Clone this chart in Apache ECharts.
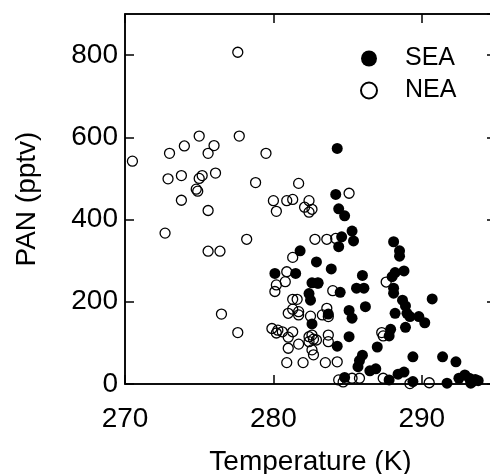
<!DOCTYPE html>
<html lang="en">
<head>
    <meta charset="UTF-8">
    <title>PAN vs Temperature</title>
    <script src="https://cdn.jsdelivr.net/npm/echarts@6/dist/echarts.min.js"></script>
</head>
<body style="margin:0">
<div id="echarts" style="width: 490px;height:474px"></div>
<script>
    // SEA: filled circles, [temperature K, PAN pptv]
    var seaData = [
        [284.3, 573], [284.2, 461], [284.4, 426], [284.8, 409],
        [285.3, 372], [284.6, 358], [285.4, 348], [284.4, 334],
        [281.8, 324], [282.9, 297], [283.9, 280], [280.1, 269], [281.5, 269],
        [286.0, 264], [285.6, 233], [286.1, 233], [284.5, 223],
        [282.6, 246], [283.0, 245], [282.4, 220], [282.5, 204],
        [286.2, 188], [285.1, 179], [285.3, 160], [283.7, 170],
        [282.6, 146], [285.1, 115], [284.3, 92],
        [286.0, 70], [285.8, 57], [285.7, 42], [286.5, 32], [286.9, 37],
        [284.8, 16], [287.0, 90], [287.8, 10], [288.4, 24], [288.8, 29],
        [289.4, 66], [289.4, 6], [291.7, 2], [291.4, 66], [292.3, 54],
        [292.5, 14], [292.9, 22], [293.2, 14], [293.6, 11], [293.8, 8], [293.4, 5], [293.3, 2],
        [288.1, 346], [288.5, 324], [288.5, 311],
        [288.8, 275], [288.2, 271], [288.0, 261], [288.1, 233], [288.1, 221],
        [288.7, 204], [288.9, 190], [289.0, 172], [289.2, 164],
        [289.8, 164], [290.2, 149], [290.7, 207],
        [288.2, 172], [288.9, 138], [287.9, 133], [287.8, 117]
    ];
    // NEA: open circles
    var neaData = [
        [277.6, 807], [275.0, 603], [277.7, 603], [274.0, 579], [276.0, 580],
        [273.0, 561], [275.6, 561], [279.5, 561], [270.5, 542],
        [272.9, 499], [273.8, 507], [275.2, 507], [275.0, 500], [276.1, 513],
        [274.8, 474], [274.9, 469], [278.8, 490], [281.7, 488],
        [273.8, 447], [275.6, 422], [272.7, 367], [275.6, 323], [276.4, 323], [278.2, 352],
        [276.5, 170], [277.6, 125],
        [280.0, 446], [280.9, 446], [281.3, 449], [280.2, 420], [282.1, 430], [282.6, 425],
        [282.4, 418], [282.4, 446], [285.1, 464],
        [282.8, 352], [283.6, 352], [284.2, 354],
        [281.3, 308], [280.9, 273], [280.8, 249], [280.2, 241], [280.1, 225],
        [283.0, 246], [284.0, 227], [281.3, 206], [281.6, 206],
        [281.3, 182], [281.7, 176], [281.7, 168], [281.0, 172], [282.5, 165],
        [283.6, 184], [283.7, 164], [283.3, 168],
        [279.9, 135], [280.3, 131], [280.6, 127], [280.2, 124], [281.3, 127], [281.0, 114],
        [282.4, 115], [282.7, 109], [282.9, 107], [282.4, 103], [282.6, 119],
        [283.7, 119], [283.7, 103], [281.7, 97], [281.0, 87], [282.6, 83], [282.7, 71],
        [280.9, 52], [282.0, 52], [283.5, 52], [284.3, 54],
        [284.4, 10], [284.7, 5], [285.3, 14], [285.8, 14],
        [287.6, 248], [287.3, 125], [287.4, 117], [287.4, 14], [289.2, 1], [290.5, 3]
    ];
    var seriesNames = ['SEA', 'NEA'];
    var xRange = [270, 295];
    var yRange = [0, 900];

    var font = 'Liberation Sans, Arial, sans-serif';
    var chartDom = document.getElementById('echarts');
    var myChart = echarts.init(chartDom, null, {renderer: 'canvas'});

    function lineStyle() {
        return {color: '#000', width: 1.5};
    }
    function tick() {
        return {show: true, inside: true, length: 9, lineStyle: lineStyle()};
    }

    // mirrored axes on top / right: ticks only, same scale
    function mirrorAxis(position, range, interval) {
        return {
            show: true,
            gridIndex: 0,
            type: 'value', position: position,
            min: range[0], max: range[1], interval: interval,
            axisLine: {show: true, onZero: false, lineStyle: lineStyle()},
            axisTick: tick(),
            splitLine: {show: false},
            axisLabel: {show: false}
        };
    }

    var option = {
        backgroundColor: '#fff',
        animation: false,
        grid: {
            left: 125, top: 14, width: 371, bottom: 90,
            outerBoundsMode: 'none', containLabel: false,
            show: true, borderColor: '#000', borderWidth: 1.5, backgroundColor: 'transparent'
        },
        legend: {
            orient: 'vertical',
            left: 355,
            top: 41,
            itemWidth: 16,
            itemHeight: 16,
            itemGap: 7,
            textStyle: {fontFamily: font, fontSize: 25, lineHeight: 24, color: '#000', padding: [0, 0, 0, 23]},
            data: seriesNames
        },
        xAxis: [{
            type: 'value',
            gridIndex: 0,
            position: 'bottom',
            min: xRange[0], max: xRange[1], interval: 10,
            name: 'Temperature (K)',
            nameLocation: 'middle',
            nameGap: 64,
            nameTextStyle: {fontFamily: font, fontSize: 28, color: '#000'},
            axisLine: {onZero: false, lineStyle: lineStyle()},
            axisTick: tick(),
            splitLine: {show: false},
            axisLabel: {fontFamily: font, fontSize: 28, color: '#000', margin: 21, showMaxLabel: false}
        }, mirrorAxis('top', xRange, 10)],
        yAxis: [{
            type: 'value',
            gridIndex: 0,
            position: 'left',
            min: yRange[0], max: yRange[1], interval: 200,
            name: 'PAN (pptv)',
            nameLocation: 'middle',
            nameGap: 84,
            nameTextStyle: {fontFamily: font, fontSize: 28, color: '#000'},
            axisLine: {onZero: false, lineStyle: lineStyle()},
            axisTick: tick(),
            splitLine: {show: false},
            axisLabel: {fontFamily: font, fontSize: 28, color: '#000', margin: 7, showMaxLabel: false}
        }, mirrorAxis('right', yRange, 200)],
        series: [{
            name: seriesNames[0],
            type: 'scatter',
            symbol: 'circle',
            symbolSize: 11,
            itemStyle: {color: '#000', opacity: 1},
            data: seaData
        }, {
            name: seriesNames[1],
            type: 'scatter',
            // same ranges as the main axes, so positions are identical
            xAxisIndex: 1,
            yAxisIndex: 1,
            symbol: 'circle',
            symbolSize: 10,
            itemStyle: {color: 'rgba(0,0,0,0)', borderColor: '#000', borderWidth: 1.3, opacity: 1},
            data: neaData
        }]
    };

    option && myChart.setOption(option);
</script>
</body>
</html>
